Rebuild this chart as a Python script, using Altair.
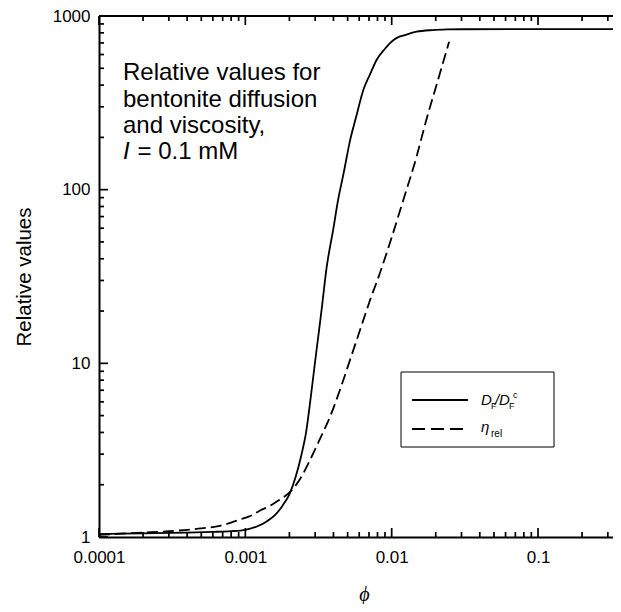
import altair as alt
import pandas as pd

# ---- data ----
phi_D = [0.0001, 0.0002, 0.0004, 0.0006, 0.0008, 0.001, 0.0012, 0.0014, 0.0016,
         0.0018, 0.002, 0.0022, 0.0024, 0.0026, 0.0028, 0.003, 0.0033, 0.0036,
         0.004, 0.0043, 0.0047, 0.0052, 0.0057, 0.0064, 0.0071, 0.0079, 0.009,
         0.0103, 0.0113, 0.0123, 0.0148, 0.019, 0.024, 0.03, 0.1, 0.369]
val_D = [1.04, 1.05, 1.06, 1.07, 1.08, 1.10, 1.15, 1.23, 1.34,
         1.52, 1.76, 2.2, 2.9, 4.0, 6.4, 10.3, 19.5, 36,
         60, 87, 125, 193, 260, 375, 460, 560, 648,
         727, 760, 776, 812, 830, 837, 839, 840, 840]

phi_eta = [0.0001, 0.0002, 0.0003, 0.0005, 0.00067, 0.0008, 0.00092, 0.0011,
           0.00126, 0.00145, 0.00164, 0.00185, 0.00205, 0.0024, 0.00277, 0.0032,
           0.0038, 0.0045, 0.0052, 0.0061, 0.0071, 0.0083, 0.0097, 0.012,
           0.0147, 0.0172, 0.0205, 0.0247]
val_eta = [1.03, 1.06, 1.08, 1.12, 1.16, 1.21, 1.26, 1.33,
           1.42, 1.5, 1.6, 1.71, 1.84, 2.2, 2.78, 3.6,
           4.95, 7.3, 10.5, 15.7, 23, 33, 49, 87,
           152, 250, 415, 711]

x_major = [0.0001, 0.001, 0.01, 0.1]
x_minor = [0.0002, 0.0003, 0.0004, 0.0005, 0.0006, 0.0007, 0.0008, 0.0009,
           0.002, 0.003, 0.004, 0.005, 0.006, 0.007, 0.008, 0.009,
           0.02, 0.03, 0.04, 0.05, 0.06, 0.07, 0.08, 0.09,
           0.2, 0.3]
y_major = [1, 10, 100, 1000]
y_minor = [2, 3, 4, 5, 6, 7, 8, 9,
           20, 30, 40, 50, 60, 70, 80, 90,
           200, 300, 400, 500, 600, 700, 800, 900]

W, H = 522, 521
FONT = "Liberation Sans"
xs = alt.Scale(type="log", domain=[0.0001, 0.369], nice=False)
ys = alt.Scale(type="log", domain=[1, 1000], nice=False)

x_axis = alt.Axis(values=x_major, format="~g", ticks=False, grid=False,
                  domainWidth=2, domainColor="black", labelFont=FONT,
                  labelFontSize=17, labelColor="black", labelPadding=12,
                  labelFlush=False, labelOverlap=False,
                  title="\u03d5", titleFont="Liberation Serif", titleFontStyle="italic",
                  titleFontWeight="normal", titleFontSize=20, titleColor="black",
                  titleX=265, titleY=63, titleBaseline="alphabetic")
y_axis = alt.Axis(values=y_major, format="d", ticks=False, grid=False,
                  domainWidth=2, domainColor="black", labelFont=FONT,
                  labelFontSize=17, labelColor="black", labelPadding=9,
                  labelFlush=False, labelOverlap=False,
                  title="Relative values", titleFont=FONT, titleFontWeight="normal",
                  titleFontSize=20.5, titleColor="black", titlePadding=18)


def X():
    return alt.X("phi:Q", scale=xs, axis=x_axis)


def Y():
    return alt.Y("value:Q", scale=ys, axis=y_axis)


df_D = pd.DataFrame({"phi": phi_D, "value": val_D})
df_eta = pd.DataFrame({"phi": phi_eta, "value": val_eta})

solid = alt.Chart(df_D).mark_line(
    color="black", strokeWidth=1.8, interpolate="monotone").encode(x=X(), y=Y())
dashed = alt.Chart(df_eta).mark_line(
    color="black", strokeWidth=1.8, strokeDash=[11, 5], interpolate="monotone").encode(x=X(), y=Y())


def xticks(vals, y0, y1):
    return alt.Chart(pd.DataFrame({"phi": vals})).mark_rule(color="black", strokeWidth=1.7).encode(
        x=X(), y=alt.value(y0), y2=alt.value(y1))


def yticks(vals, x0, x1):
    return alt.Chart(pd.DataFrame({"value": vals})).mark_rule(color="black", strokeWidth=1.7).encode(
        y=Y(), x=alt.value(x0), x2=alt.value(x1))


ticks = [
    xticks(x_major, H, H - 9), xticks(x_minor, H, H - 5),
    xticks(x_major, 0, 9), xticks(x_minor, 0, 5),
    yticks(y_major, 0, 9), yticks(y_minor, 0, 5),
]

one = pd.DataFrame({"a": [0]})

top_line = alt.Chart(one).mark_rule(color="black", strokeWidth=2).encode(
    x=alt.value(0), x2=alt.value(W), y=alt.value(0))


def txt(s, x, y, size, style="normal", font=FONT):
    return alt.Chart(one).mark_text(text=s, align="left", baseline="alphabetic", font=font,
                                    fontSize=size, fontStyle=style, color="black").encode(
        x=alt.value(x), y=alt.value(y))


annot = [
    txt("Relative values for", 24, 64, 24),
    txt("bentonite diffusion", 24, 90.5, 24),
    txt("and viscosity,", 24, 117, 24),
    txt("I", 24, 143, 24, "italic"),
    txt("= 0.1 mM", 38.5, 143, 24),
]

legend_box = alt.Chart(one).mark_rect(fillOpacity=0, stroke="black", strokeWidth=1).encode(
    x=alt.value(302), x2=alt.value(455), y=alt.value(356), y2=alt.value(431))
leg_solid = alt.Chart(one).mark_rule(color="black", strokeWidth=1.8).encode(
    x=alt.value(313), x2=alt.value(369), y=alt.value(384))
leg_dash = alt.Chart(one).mark_rule(color="black", strokeWidth=1.8, strokeDash=[13, 6]).encode(
    x=alt.value(313), x2=alt.value(364), y=alt.value(413))
leg_text = [
    txt("D", 382, 389, 15, "italic"),
    txt("F", 392, 393, 9),
    txt("/", 396, 389, 15, "italic"),
    txt("D", 400, 389, 15, "italic"),
    txt("F", 410, 393, 9),
    txt("c", 414, 382, 9),
    txt("\u03b7", 382, 416, 15, "italic"),
    txt("rel", 392, 421, 10),
]

chart = alt.layer(
    solid, dashed, legend_box, leg_solid, leg_dash, *leg_text,
    *annot, top_line, *ticks,
).properties(
    width=W, height=H,
    padding={"left": 91, "top": 8, "right": -8, "bottom": 67},
    autosize=alt.AutoSizeParams(type="none"),
).configure_view(stroke=None).configure(background="white")

chart.save("out.html", embed_options={"renderer": "svg", "actions": False})
